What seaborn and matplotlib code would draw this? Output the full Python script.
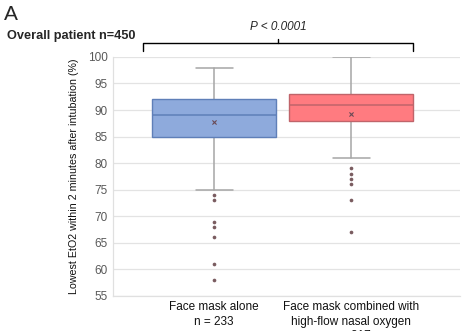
import matplotlib
matplotlib.use("Agg")
import matplotlib.pyplot as plt
import seaborn as sns
import pandas as pd

# Group labels
groups = ["Face mask alone\nn = 233",
          "Face mask combined with\nhigh-flow nasal oxygen\nn = 217"]

# Box summary statistics per group (lowest EtO2, %)
whisker_low = [75, 81]
q1 = [85, 88]
median = [89, 91]
q3 = [92, 93]
whisker_high = [98, 100]
means = [87.8, 89.2]

# Outlying patients
outliers_fm = [74, 73, 69, 68, 66, 61, 58]
outliers_hfno = [79, 78, 77, 76, 73, 67]

fills = ["#8eaadc", "#ff7b80"]
edges = ["#5f7fb8", "#c0646a"]

sns.set_theme(style="whitegrid")
plt.rcParams["font.family"] = ["Liberation Sans", "DejaVu Sans"]

fig = plt.figure(figsize=(4.71, 3.31), dpi=100)
ax = fig.add_axes([0.240, 0.106, 0.737, 0.722])

stats = []
for i in range(len(groups)):
    stats.append(dict(med=median[i], q1=q1[i], q3=q3[i],
                      whislo=whisker_low[i], whishi=whisker_high[i],
                      mean=means[i], fliers=[], label=groups[i]))

bp = ax.bxp(stats, positions=[0, 1], widths=0.905, patch_artist=True,
            showmeans=False, showfliers=False,
            whiskerprops=dict(color="#a6a6a6", linewidth=1.1),
            capprops=dict(color="#a6a6a6", linewidth=1.1),
            medianprops=dict(linewidth=1.1),
            capwidths=0.27)
for i, box in enumerate(bp["boxes"]):
    box.set_facecolor(fills[i])
    box.set_edgecolor(edges[i])
    box.set_linewidth(1.0)
    box.set_zorder(3)
    bp["medians"][i].set_color(edges[i])
    bp["medians"][i].set_zorder(4)

# Outliers
out_df = pd.DataFrame({
    "pos": [0] * len(outliers_fm) + [1] * len(outliers_hfno),
    "val": outliers_fm + outliers_hfno,
})
sns.scatterplot(data=out_df, x="pos", y="val", ax=ax, color="#7a5c60",
                s=7, linewidth=0, zorder=5, legend=False)

# Means
mean_df = pd.DataFrame({"pos": [0, 1], "val": means})
sns.scatterplot(data=mean_df, x="pos", y="val", ax=ax, marker="x",
                color="#6a4a55", s=9, linewidth=0.8, zorder=5, legend=False)

ax.set_xlim(-0.737, 1.796)
ax.set_ylim(55, 100)
ax.set_yticks(range(55, 101, 5))
ax.set_xticks([0, 1])
ax.set_xticklabels(groups, fontsize=8.5, color="#111111", linespacing=1.25)
ax.tick_params(axis="y", labelsize=8.5, labelcolor="#595959", pad=4, length=0)
ax.tick_params(axis="x", pad=4, length=0)
ax.grid(axis="x", visible=False)
ax.grid(axis="y", color="#e3e3e3", linewidth=0.9)
ax.set_facecolor("white")
for side in ["top", "right"]:
    ax.spines[side].set_visible(False)
for side in ["left", "bottom"]:
    ax.spines[side].set_color("#e0e0e0")
    ax.spines[side].set_linewidth(0.9)
ax.set_xlabel("")
ax.set_ylabel("Lowest EtO2 within 2 minutes after intubation (%)",
              fontsize=7.7, color="#111111", labelpad=6)

# Panel letter and title
fig.text(4 / 471, 1 - 15 / 331, "A", fontsize=15, va="center", ha="left")
fig.text(7 / 471, 1 - 36 / 331, "Overall patient n=450", fontsize=9.2,
         fontweight="bold", va="center", ha="left")

# Significance bracket
x_l, x_r, x_m = 143 / 471, 413 / 471, 278 / 471
y_line, y_end, y_tick = 1 - 43 / 331, 1 - 51 / 331, 1 - 39 / 331
fig.add_artist(plt.Line2D([x_l, x_l, x_r, x_r], [y_end, y_line, y_line, y_end],
                          color="black", linewidth=1.0, transform=fig.transFigure))
fig.add_artist(plt.Line2D([x_m, x_m], [y_line, y_tick], color="black",
                          linewidth=1.0, transform=fig.transFigure))
fig.text(x_m, 1 - 27 / 331, "P < 0.0001", fontsize=8.5, style="italic",
         ha="center", va="center")

fig.savefig("out.png", dpi=100)
